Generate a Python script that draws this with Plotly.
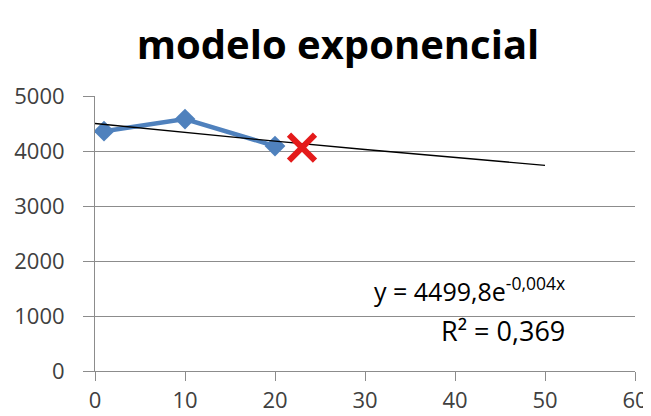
import numpy as np
import plotly.graph_objects as go

# observed data
x_obs = [1, 10, 20]
y_obs = [4360, 4580, 4090]

# predicted point (red cross)
x_pred = [23]
y_pred = [4060]

# exponential trend y = a * e^(b x)  (label shows b rounded to -0,004)
trend_a = 4499.8
trend_b = -0.0037
trend_x = [0, 10, 20, 30, 40, 50]
trend_y = [trend_a * np.exp(trend_b * v) for v in trend_x]

y_ticks = [0, 1000, 2000, 3000, 4000, 5000]
x_ticks = [0, 10, 20, 30, 40, 50, 60]

# page body has an 8px margin, so the figure is drawn 8px in from the corner
W, H = 643, 408
L, R, T, B = 87, 16, 88, 45

fig = go.Figure()

fig.add_trace(go.Scatter(
    x=x_obs, y=y_obs,
    mode='lines+markers',
    line=dict(color='#4F81BD', width=4.5),
    marker=dict(symbol='diamond', size=16, color='#4F81BD'),
    showlegend=False
))

fig.add_trace(go.Scatter(
    x=trend_x, y=trend_y,
    mode='lines',
    line=dict(color='black', width=1.3),
    showlegend=False
))

fig.add_trace(go.Scatter(
    x=x_pred, y=y_pred,
    mode='markers',
    marker=dict(symbol='x-thin', size=26, color='#E41B1B',
                line=dict(color='#E41B1B', width=6)),
    showlegend=False
))

fig.add_annotation(
    x=567, y=289, showarrow=False,
    text='y = 4499,8e<sup>-0,004x</sup>',
    font=dict(family='Open Sans', size=25, color='black'),
    xanchor='right', yanchor='middle'
)
fig.add_annotation(
    x=567, y=330, showarrow=False,
    text='R² = 0,369',
    font=dict(family='Open Sans', size=27, color='black'),
    xanchor='right', yanchor='middle'
)

fig.update_layout(
    width=W, height=H,
    margin=dict(l=L, r=R, t=T, b=B, autoexpand=False),
    paper_bgcolor='white',
    plot_bgcolor='white',
    title=dict(text='<b>modelo exponencial</b>', x=(338 - 8) / W,
               xanchor='center', y=1 - 37 / H, yanchor='middle',
               font=dict(family='Open Sans', size=40, color='black')),
    font=dict(family='Open Sans', size=22, color='#404040'),
    xaxis=dict(range=[0, 60], tickvals=x_ticks, showgrid=False,
               showline=True, linecolor='#8C8C8C', linewidth=1,
               ticks='outside', ticklen=9, tickcolor='#8C8C8C',
               ticklabelstandoff=1, zeroline=False, fixedrange=True,
               automargin=False),
    yaxis=dict(range=[0, 5000], tickvals=y_ticks, showgrid=True,
               gridcolor='#8C8C8C', gridwidth=1,
               showline=True, linecolor='#8C8C8C', linewidth=1,
               ticks='outside', ticklen=11, tickcolor='#8C8C8C',
               ticklabelstandoff=14, zeroline=False, fixedrange=True,
               automargin=False)
)

# annotation coords are given in screen pixels; convert to paper fraction
pw, ph = W - L - R, H - T - B
for ann in fig.layout.annotations:
    ann.update(xref='paper', yref='paper',
               x=(ann.x - 8 - L) / pw, y=(H - B - (ann.y - 8)) / ph)

fig.write_html("out.html")
